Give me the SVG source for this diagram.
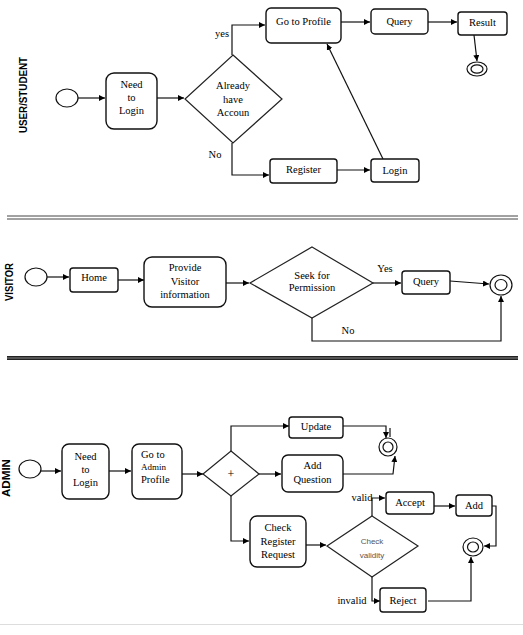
<svg xmlns="http://www.w3.org/2000/svg" width="523" height="635" viewBox="0 0 523 635">
<style>
.box{fill:#fff;stroke:#111;stroke-width:1.4}
.dia{fill:#fff;stroke:#222;stroke-width:1.2}
.ev{fill:#fff;stroke:#111;stroke-width:1.2}
.c{fill:none;stroke:#111;stroke-width:1.2}
.t{font-family:"Liberation Serif","Times New Roman",serif;font-size:10.5px;fill:#000;text-anchor:middle}
.lane{font-family:"Liberation Sans",Arial,sans-serif;font-size:10.5px;font-weight:bold;fill:#000;text-anchor:middle}
.g{font-family:"Liberation Sans",Arial,sans-serif;font-size:8px;fill:#555;text-anchor:middle}
</style>
<defs>
<marker id="a" markerUnits="userSpaceOnUse" markerWidth="7" markerHeight="6" refX="6" refY="3" orient="auto">
<path d="M0,0 L6,3 L0,6 z" fill="#000"/>
</marker>
</defs>
<rect width="523" height="635" fill="#fff"/>

<!-- lane labels and separators -->
<g id="lanes">
<text class="lane" transform="translate(27,95) rotate(-90)" textLength="76" lengthAdjust="spacingAndGlyphs">USER/STUDENT</text>
<text class="lane" transform="translate(13,282) rotate(-90)" textLength="38" lengthAdjust="spacingAndGlyphs">VISITOR</text>
<text class="lane" transform="translate(10,478) rotate(-90)" textLength="38" lengthAdjust="spacingAndGlyphs">ADMIN</text>
<line x1="7" y1="216" x2="518" y2="216" stroke="#444" stroke-width="1"/>
<line x1="7" y1="219" x2="518" y2="219" stroke="#444" stroke-width="1"/>
<rect x="7" y="356" width="511" height="4" fill="#555"/>
<line x1="7" y1="356.5" x2="518" y2="356.5" stroke="#222" stroke-width="1"/>
<line x1="7" y1="359.5" x2="518" y2="359.5" stroke="#222" stroke-width="1"/>
<line x1="0" y1="624.5" x2="523" y2="624.5" stroke="#ddd" stroke-width="1"/>
</g>

<!-- connectors -->
<g id="connectors">
<line class="c" x1="78" y1="98" x2="105" y2="98" marker-end="url(#a)"/>
<line class="c" x1="157" y1="98" x2="184" y2="98" marker-end="url(#a)"/>
<polyline class="c" points="232,55 232,25 265,25" marker-end="url(#a)"/>
<polyline class="c" points="232,143 232,175 269,175" marker-end="url(#a)"/>
<line class="c" x1="341" y1="22" x2="370" y2="22" marker-end="url(#a)"/>
<line class="c" x1="428" y1="22" x2="457" y2="22" marker-end="url(#a)"/>
<line class="c" x1="474" y1="35" x2="477" y2="61" marker-end="url(#a)"/>
<line class="c" x1="337" y1="170" x2="370" y2="170" marker-end="url(#a)"/>
<line class="c" x1="383" y1="159" x2="327" y2="44" marker-end="url(#a)"/>

<line class="c" x1="47" y1="277" x2="69" y2="277" marker-end="url(#a)"/>
<line class="c" x1="118" y1="280" x2="144" y2="280" marker-end="url(#a)"/>
<line class="c" x1="226" y1="283" x2="249" y2="283" marker-end="url(#a)"/>
<line class="c" x1="373" y1="283" x2="401" y2="283" marker-end="url(#a)"/>
<line class="c" x1="450" y1="281" x2="489" y2="284" marker-end="url(#a)"/>
<polyline class="c" points="312,318 312,341 501,341 501,296" marker-end="url(#a)"/>

<line class="c" x1="41" y1="471" x2="61" y2="471" marker-end="url(#a)"/>
<line class="c" x1="109" y1="471" x2="131" y2="471" marker-end="url(#a)"/>
<line class="c" x1="182" y1="474" x2="203" y2="474" marker-end="url(#a)"/>
<polyline class="c" points="231,451 231,426 289,426" marker-end="url(#a)"/>
<line class="c" x1="259" y1="474" x2="281" y2="474" marker-end="url(#a)"/>
<polyline class="c" points="231,496 231,541 249,541" marker-end="url(#a)"/>
<polyline class="c" points="343,426 386,426 386,438" marker-end="url(#a)"/>
<line class="c" x1="390" y1="428" x2="390" y2="437"/>
<polyline class="c" points="343,474 393,474 395,456" marker-end="url(#a)"/>
<line class="c" x1="306" y1="545" x2="326" y2="545" marker-end="url(#a)"/>
<polyline class="c" points="372,516 372,498 385,498" marker-end="url(#a)"/>
<line class="c" x1="434" y1="506" x2="455" y2="506" marker-end="url(#a)"/>
<polyline class="c" points="492,506 496,506 496,546 484,546" marker-end="url(#a)"/>
<polyline class="c" points="372,577 372,601 380,601" marker-end="url(#a)"/>
<polyline class="c" points="428,601 471,601 471,557" marker-end="url(#a)"/>

<text class="t" x="222" y="37">yes</text>
<text class="t" x="215" y="158">No</text>
<text class="t" x="385" y="272">Yes</text>
<text class="t" x="348" y="334">No</text>
<text class="t" x="362" y="501">valid</text>
<text class="t" x="352" y="604">invalid</text>
</g>

<!-- USER/STUDENT lane -->
<g id="u_start"><ellipse class="ev" cx="67" cy="98" rx="11" ry="9"/></g>
<g id="u_need_login"><rect class="box" x="106" y="73" width="51" height="56" rx="8"/>
<text class="t" x="131.5" y="88">Need</text><text class="t" x="131.5" y="101">to</text><text class="t" x="131.5" y="114">Login</text></g>
<g id="u_already"><polygon class="dia" points="233,55 282,99 233,143 185,99"/>
<text class="t" x="233" y="89">Already</text><text class="t" x="233" y="103">have</text><text class="t" x="233" y="116">Accoun</text></g>
<g id="u_profile"><rect class="box" x="266" y="8" width="75" height="35" rx="5"/><text class="t" x="303.5" y="25">Go to Profile</text></g>
<g id="u_query"><rect class="box" x="371" y="9" width="57" height="25" rx="4"/><text class="t" x="399.5" y="25">Query</text></g>
<g id="u_result"><rect class="box" x="458" y="12" width="49" height="23" rx="3"/><text class="t" x="482.5" y="26">Result</text></g>
<g id="u_end"><ellipse class="ev" cx="477" cy="69" rx="10" ry="7"/><ellipse class="ev" cx="477" cy="69" rx="6" ry="4.2"/></g>
<g id="u_register"><rect class="box" x="270" y="159" width="67" height="24" rx="3"/><text class="t" x="303.5" y="173">Register</text></g>
<g id="u_login"><rect class="box" x="371" y="159" width="48" height="23" rx="3"/><text class="t" x="395" y="174">Login</text></g>

<!-- VISITOR lane -->
<g id="v_start"><ellipse class="ev" cx="36" cy="277" rx="11" ry="9"/></g>
<g id="v_home"><rect class="box" x="70" y="268" width="48" height="24" rx="3"/><text class="t" x="94" y="281">Home</text></g>
<g id="v_provide"><rect class="box" x="144" y="257" width="82" height="50" rx="8"/>
<text class="t" x="185" y="271">Provide</text><text class="t" x="185" y="285">Visitor</text><text class="t" x="185" y="298">information</text></g>
<g id="v_seek"><polygon class="dia" points="312,247 373,283 312,318 250,283"/>
<text class="t" x="312" y="279">Seek for</text><text class="t" x="312" y="291">Permission</text></g>
<g id="v_query"><rect class="box" x="402" y="271" width="48" height="23" rx="3"/><text class="t" x="426" y="285">Query</text></g>
<g id="v_end"><ellipse class="ev" cx="501" cy="285" rx="11" ry="10"/><ellipse class="ev" cx="501" cy="285" rx="6" ry="5.5"/></g>

<!-- ADMIN lane -->
<g id="a_start"><ellipse class="ev" cx="30" cy="469" rx="11" ry="9"/></g>
<g id="a_need_login"><rect class="box" x="62" y="444" width="47" height="55" rx="7"/>
<text class="t" x="85.5" y="460">Need</text><text class="t" x="85.5" y="473">to</text><text class="t" x="85.5" y="486">Login</text></g>
<g id="a_admin_profile"><rect class="box" x="132" y="444" width="50" height="55" rx="7"/>
<text class="t" x="141" y="458" style="text-anchor:start">Go to</text><text class="t" x="141" y="470" style="text-anchor:start;font-size:9px">Admin</text><text class="t" x="141" y="483" style="text-anchor:start">Profile</text></g>
<g id="a_gateway"><polygon class="dia" points="231,451 259,474 231,496 203,474"/>
<text class="t" x="231" y="478" style="font-size:12px">+</text></g>
<g id="a_update"><rect class="box" x="289" y="417" width="54" height="21" rx="3"/><text class="t" x="316" y="430">Update</text></g>
<g id="a_add_question"><rect class="box" x="282" y="455" width="61" height="37" rx="6"/>
<text class="t" x="312.5" y="469">Add</text><text class="t" x="312.5" y="483">Question</text></g>
<g id="a_end1"><ellipse class="ev" cx="388" cy="447" rx="9" ry="9"/><ellipse class="ev" cx="388" cy="447" rx="5" ry="5"/></g>
<g id="a_check_request"><rect class="box" x="250" y="516" width="56" height="51" rx="7"/>
<text class="t" x="278" y="531">Check</text><text class="t" x="278" y="545">Register</text><text class="t" x="278" y="558">Request</text></g>
<g id="a_check_validity"><polygon class="dia" points="372,516 418,546 372,577 327,546"/>
<text class="g" x="372" y="544">Check</text><text class="g" x="372" y="558">validity</text></g>
<g id="a_accept"><rect class="box" x="386" y="492" width="48" height="22" rx="3"/><text class="t" x="410" y="506">Accept</text></g>
<g id="a_add"><rect class="box" x="456" y="495" width="36" height="21" rx="3"/><text class="t" x="474" y="509">Add</text></g>
<g id="a_end2"><ellipse class="ev" cx="473" cy="547" rx="10" ry="9"/><ellipse class="ev" cx="473" cy="547" rx="5.5" ry="5"/></g>
<g id="a_reject"><rect class="box" x="380" y="588" width="46" height="24" rx="3"/><text class="t" x="403" y="604">Reject</text></g>
</svg>
